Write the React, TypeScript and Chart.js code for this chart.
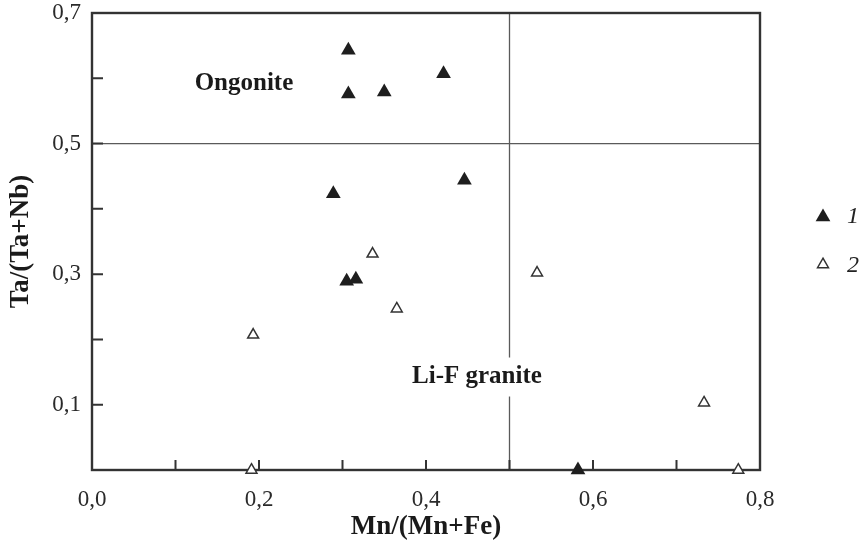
import React, { useEffect, useRef } from "react";
import { Chart, registerables } from "chart.js";

Chart.register(...registerables);

// Series 1: filled triangles (Mn/(Mn+Fe), Ta/(Ta+Nb))
const series1X = [0.307, 0.307, 0.35, 0.421, 0.289, 0.446, 0.305, 0.316, 0.582];
const series1Y = [0.643, 0.576, 0.579, 0.607, 0.423, 0.444, 0.289, 0.292, 0.0];
// Series 2: open triangles
const series2X = [0.336, 0.365, 0.193, 0.191, 0.533, 0.733, 0.774];
const series2Y = [0.331, 0.247, 0.207, 0.0, 0.302, 0.103, 0.0];

const seriesNames = ["1", "2"];

const xTicks = [0, 0.1, 0.2, 0.3, 0.4, 0.5, 0.6, 0.7, 0.8];
const xTickLabels = ["0,0", "", "0,2", "", "0,4", "", "0,6", "", "0,8"];
const yTicks = [0, 0.1, 0.2, 0.3, 0.4, 0.5, 0.6, 0.7];
const yTickLabels = ["", "0,1", "", "0,3", "", "0,5", "", "0,7"];

const boundaryX = 0.5;
const boundaryY = 0.5;

const regionNames = ["Ongonite", "Li-F granite"];
const regionX = [0.182, 0.461];
const regionY = [0.582, 0.134];
const regionBox = [false, true];

const xTitle = "Mn/(Mn+Fe)";
const yTitle = "Ta/(Ta+Nb)";

const SERIF = '"Liberation Serif", "Times New Roman", serif';

function triangle(ctx: CanvasRenderingContext2D, x: number, y: number, r: number) {
  ctx.beginPath();
  for (let i = 0; i < 3; i++) {
    const a = (i * 2 * Math.PI) / 3;
    const px = x + Math.sin(a) * r;
    const py = y - Math.cos(a) * r;
    if (i === 0) ctx.moveTo(px, py);
    else ctx.lineTo(px, py);
  }
  ctx.closePath();
}

const overlay = {
  id: "overlay",
  beforeDatasetsDraw(chart: any) {
    const { ctx, chartArea: a, scales } = chart;
    const x = scales.x;
    const y = scales.y;
    ctx.save();
    ctx.strokeStyle = "#5a5a5a";
    ctx.lineWidth = 1.3;
    const xb = x.getPixelForValue(boundaryX);
    const yb = y.getPixelForValue(boundaryY);
    ctx.beginPath();
    ctx.moveTo(a.left, yb);
    ctx.lineTo(a.right, yb);
    ctx.moveTo(xb, a.top);
    ctx.lineTo(xb, a.bottom);
    ctx.stroke();
    ctx.strokeStyle = "#333";
    ctx.lineWidth = 2.4;
    ctx.strokeRect(a.left, a.top, a.right - a.left, a.bottom - a.top);
    ctx.lineWidth = 2;
    ctx.beginPath();
    xTicks.forEach((v) => {
      const px = x.getPixelForValue(v);
      ctx.moveTo(px, a.bottom);
      ctx.lineTo(px, a.bottom - 10);
    });
    yTicks.forEach((v) => {
      const py = y.getPixelForValue(v);
      ctx.moveTo(a.left, py);
      ctx.lineTo(a.left + 11, py);
    });
    ctx.stroke();
    ctx.font = `bold 25px ${SERIF}`;
    ctx.textAlign = "center";
    ctx.textBaseline = "alphabetic";
    regionNames.forEach((name, i) => {
      const px = x.getPixelForValue(regionX[i]);
      const py = y.getPixelForValue(regionY[i]);
      if (regionBox[i]) {
        const w = ctx.measureText(name).width;
        ctx.fillStyle = "#fff";
        ctx.fillRect(px - w / 2 - 4, py - 25, w + 8, 39);
      }
      ctx.fillStyle = "#1a1a1a";
      ctx.fillText(name, px, py);
    });
    ctx.restore();
  },
  afterDraw(chart: any) {
    const { ctx, chartArea: a } = chart;
    ctx.save();
    const lx = a.right + 63;
    const rows = [215, 263];
    ctx.fillStyle = "#1e1e1e";
    triangle(ctx, lx, rows[0] + 2, 8.5);
    ctx.fill();
    ctx.strokeStyle = "#333";
    ctx.lineWidth = 1.5;
    ctx.fillStyle = "#fff";
    triangle(ctx, lx, rows[1] + 1.5, 6.3);
    ctx.fill();
    ctx.stroke();
    ctx.fillStyle = "#222";
    ctx.font = `italic 24px ${SERIF}`;
    ctx.textAlign = "left";
    ctx.textBaseline = "middle";
    ctx.fillText(seriesNames[0], lx + 24, rows[0] + 2);
    ctx.fillText(seriesNames[1], lx + 24, rows[1] + 3);
    ctx.restore();
  },
};

export default function App() {
  const ref = useRef<HTMLCanvasElement>(null);
  useEffect(() => {
    document.body.style.margin = "0";
    const canvas = ref.current!;
    const chart = new Chart(canvas, {
      type: "scatter",
      data: {
        datasets: [
          {
            label: seriesNames[0],
            data: series1X.map((v, i) => ({ x: v, y: series1Y[i] })),
            pointStyle: "triangle",
            pointRadius: 8.5,
            backgroundColor: "#1e1e1e",
            borderColor: "#1e1e1e",
            borderWidth: 0,
            clip: false,
          } as any,
          {
            label: seriesNames[1],
            data: series2X.map((v, i) => ({ x: v, y: series2Y[i] })),
            pointStyle: "triangle",
            pointRadius: 6.3,
            backgroundColor: "#fff",
            borderColor: "#333",
            borderWidth: 1.5,
            clip: false,
          } as any,
        ],
      },
      options: {
        responsive: false,
        maintainAspectRatio: false,
        animation: false,
        layout: { padding: { left: 0, right: 102, top: 13, bottom: 0 } },
        plugins: {
          legend: { display: false },
          tooltip: { enabled: false },
        },
        scales: {
          x: {
            type: "linear",
            min: 0,
            max: 0.8,
            grid: { display: false },
            border: { display: false },
            afterBuildTicks: (s: any) => {
              s.ticks = xTicks.map((v) => ({ value: v }));
            },
            afterFit: (s: any) => {
              s.height = 73;
              s.paddingLeft = 0;
              s.paddingRight = 0;
              s.paddingTop = 0;
              s.paddingBottom = 0;
            },
            ticks: {
              autoSkip: false,
              maxRotation: 0,
              padding: 8,
              color: "#2a2a2a",
              font: { family: SERIF, size: 23 },
              callback: (_v: any, i: number) => xTickLabels[i],
            },
            title: {
              display: true,
              text: xTitle,
              color: "#1a1a1a",
              font: { family: SERIF, size: 27, weight: "bold" },
              padding: { top: 2, bottom: 0 },
            },
          },
          y: {
            type: "linear",
            min: 0,
            max: 0.7,
            grid: { display: false },
            border: { display: false },
            afterBuildTicks: (s: any) => {
              s.ticks = yTicks.map((v) => ({ value: v }));
            },
            afterFit: (s: any) => {
              s.width = 92;
              s.paddingLeft = 0;
              s.paddingRight = 0;
              s.paddingTop = 0;
              s.paddingBottom = 0;
            },
            ticks: {
              autoSkip: false,
              padding: 3,
              color: "#2a2a2a",
              font: { family: SERIF, size: 23 },
              callback: (_v: any, i: number) => yTickLabels[i],
            },
            title: {
              display: true,
              text: yTitle,
              color: "#1a1a1a",
              font: { family: SERIF, size: 27, weight: "bold" },
              padding: { top: 5, bottom: 0 },
            },
          },
        },
      },
      plugins: [overlay],
    });
    return () => chart.destroy();
  }, []);
  return (
    <div style={{ width: 862, height: 543 }}>
      <canvas ref={ref} width={862} height={543} style={{ display: "block" }} />
    </div>
  );
}
